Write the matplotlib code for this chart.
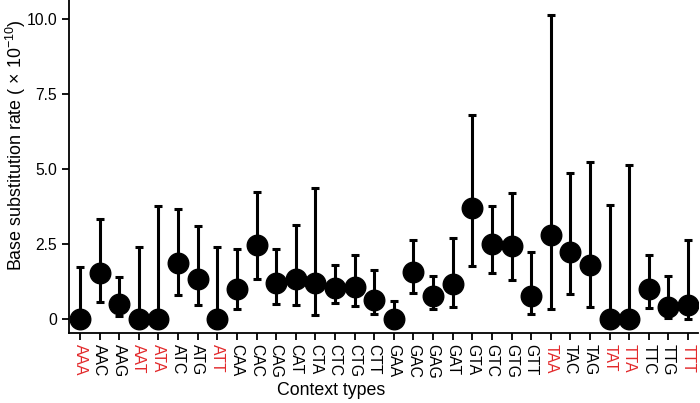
import matplotlib
matplotlib.use("Agg")
import matplotlib.pyplot as plt
import numpy as np

contexts = ["AAA","AAC","AAG","AAT","ATA","ATC","ATG","ATT","CAA","CAC","CAG","CAT","CTA","CTC","CTG","CTT",
            "GAA","GAC","GAG","GAT","GTA","GTC","GTG","GTT","TAA","TAC","TAG","TAT","TTA","TTC","TTG","TTT"]
rate = [0.0,1.53,0.48,0.0,0.0,1.85,1.32,0.0,1.0,2.46,1.18,1.33,1.2,1.01,1.05,0.62,
        0.0,1.56,0.76,1.15,3.68,2.48,2.43,0.76,2.79,2.22,1.79,0.0,0.0,0.98,0.39,0.46]
upper = [1.72,3.32,1.38,2.4,3.76,3.66,3.1,2.4,2.32,4.21,2.33,3.13,4.36,1.78,2.12,1.62,
         0.6,2.63,1.43,2.68,6.8,3.76,4.18,2.21,10.11,4.85,5.21,3.77,5.13,2.13,1.42,2.61]
lower = [0.0,0.56,0.09,0.0,0.0,0.8,0.45,0.0,0.31,1.31,0.5,0.45,0.13,0.52,0.41,0.16,
         0.0,0.85,0.33,0.38,1.76,1.53,1.29,0.15,0.32,0.81,0.37,0.0,0.0,0.36,0.02,0.0]
highlight = ["AAA","AAT","ATA","ATT","TAA","TAT","TTA","TTT"]
yticks = [0, 2.5, 5.0, 7.5, 10.0]
ytick_labels = ["0", "2.5", "5.0", "7.5", "10.0"]

plt.rcParams['font.family'] = ['Liberation Sans', 'DejaVu Sans']
plt.rcParams['mathtext.fontset'] = 'custom'
plt.rcParams['mathtext.rm'] = 'Liberation Sans'
plt.rcParams['mathtext.it'] = 'Liberation Sans:italic'

fig = plt.figure(figsize=(7.0, 4.03), dpi=100)
ax = fig.add_axes([0.0986, 0.1737, 0.8984, 0.8263])

x = np.arange(len(contexts))
rate_a = np.array(rate); up = np.array(upper); lo = np.array(lower)
yerr = np.vstack([rate_a - lo, up - rate_a])
ax.errorbar(x, rate_a, yerr=yerr, fmt='o', color='black', ms=14.8, elinewidth=2.2,
            capsize=3.2, capthick=2.2, ecolor='black', zorder=3)

ax.set_xlim(-0.56, 31.5)
ax.set_ylim(-0.48, 10.62)
ax.set_xticks(x)
ax.set_xticklabels(contexts, rotation=-90, fontsize=11.3)
for lab in ax.get_xticklabels():
    if lab.get_text() in highlight:
        lab.set_color('#e2292b')
ax.set_yticks(yticks)
ax.set_yticklabels(ytick_labels, fontsize=11.3)
ax.spines['top'].set_visible(False)
ax.spines['right'].set_visible(False)
ax.spines['left'].set_linewidth(1.3)
ax.spines['bottom'].set_linewidth(1.3)
ax.tick_params(axis='both', direction='out', length=5, width=1.3, color='black')
ax.tick_params(axis='x', pad=3)
ax.set_xlabel("Context types", fontsize=12.8)
ax.xaxis.set_label_coords(0.417, -0.147)
ax.set_ylabel(r"Base substitution rate ( $\times$ 10$^{-10}$)", fontsize=12.9)
ax.yaxis.set_label_coords(-0.066, 0.565)

fig.savefig("out.png", dpi=100)
